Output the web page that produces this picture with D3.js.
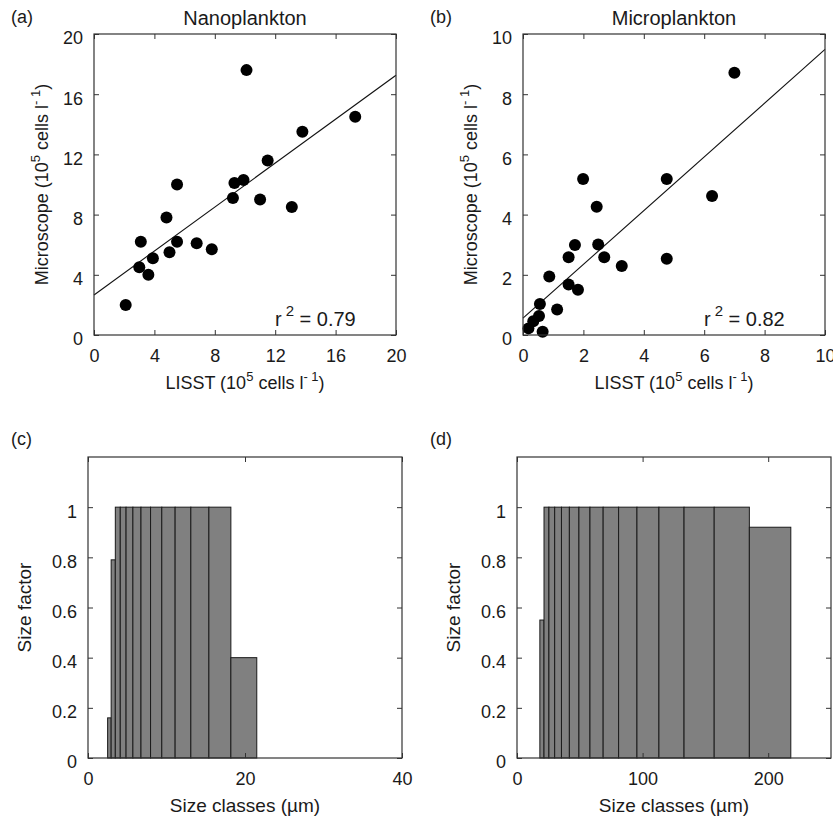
<!DOCTYPE html>
<html>
<head>
<meta charset="utf-8">
<script src="https://cdn.jsdelivr.net/npm/d3@7"></script>
<style>
  body { margin: 0; background: #fff; }
  svg text { font-family: "Liberation Sans", Arial, sans-serif; fill: #1a1a1a; }
  .tick line { stroke: #333; }
</style>
</head>
<body>
<div id="chart"></div>
<script>
// Donnees (10^5 cells l-1)
var nanoLisst = [2.1, 3.0, 3.1, 3.6, 3.9, 4.8, 5.0, 5.5, 5.5, 6.8, 7.8, 9.2, 9.3, 9.9, 10.1, 11.0, 11.5, 13.1, 13.8, 17.3];
var nanoMicro = [2.0, 4.5, 6.2, 4.0, 5.1, 7.8, 5.5, 6.2, 10.0, 6.1, 5.7, 9.1, 10.1, 10.3, 17.6, 9.0, 11.6, 8.5, 13.5, 14.5];
var nanoFit = [2.66, 0.73];   // intercept, pente
var nanoR2 = "0.79";

var microLisst = [0.18, 0.34, 0.53, 0.56, 0.65, 0.87, 1.13, 1.51, 1.51, 1.72, 1.82, 1.99, 2.44, 2.49, 2.69, 3.27, 4.76, 4.76, 6.26, 7.0];
var microMicro = [0.22, 0.46, 0.63, 1.03, 0.11, 1.94, 0.85, 1.68, 2.58, 2.99, 1.50, 5.18, 4.26, 3.01, 2.58, 2.29, 5.18, 2.53, 4.62, 8.71];
var microFit = [0.56, 0.893];
var microR2 = "0.82";

// classes de taille LISST (um) et facteur de taille
var nanoEdges = [2.50, 2.95, 3.48, 4.11, 4.85, 5.72, 6.75, 7.97, 9.40, 11.1, 13.1, 15.4, 18.2, 21.5];
var nanoFactor = [0.16, 0.79, 1, 1, 1, 1, 1, 1, 1, 1, 1, 1, 0.40];
var microEdges = [18.2, 21.5, 25.4, 30.0, 35.4, 41.7, 49.3, 58.1, 68.6, 80.9, 95.5, 113, 133, 157, 185, 218];
var microFactor = [0.55, 1, 1, 1, 1, 1, 1, 1, 1, 1, 1, 1, 1, 1, 0.92];

var scatterTicksA = [0, 4, 8, 12, 16, 20];
var scatterTicksB = [0, 2, 4, 6, 8, 10];
var factorTicks = [0, 0.2, 0.4, 0.6, 0.8, 1];
var sizeTicksC = [0, 20, 40];
var sizeTicksD = [0, 100, 200];

var W = 833, H = 821;
var svg = d3.select("#chart").append("svg").attr("width", W).attr("height", H);

// ajoute un libelle avec exposants : parts = [[texte, exposant?], ...]
function supText(g, x, y, parts, rotate) {
  var t = g.append("text").attr("font-size", 18).attr("text-anchor", "middle");
  if (rotate) t.attr("transform", "translate(" + x + "," + y + ") rotate(-90)");
  else t.attr("x", x).attr("y", y);
  var up = false;
  parts.forEach(function(p) {
    var sp = t.append("tspan").text(p[0]);
    if (p[1] && !up) { sp.attr("dy", -8).attr("font-size", 13); up = true; }
    else if (p[1]) { sp.attr("font-size", 13); }
    else if (up) { sp.attr("dy", 8); up = false; }
  });
  return t;
}

// cadre + axes facon matlab (ticks vers l'interieur sur les 4 cotes)
function frame(box, x, y, xt, yt, yfmt) {
  var g = svg.append("g");
  var xAxis = d3.axisBottom(x).tickValues(xt).tickSize(-5).tickPadding(14).tickFormat(d3.format("d"));
  var yAxis = d3.axisLeft(y).tickValues(yt).tickSize(-5).tickPadding(11).tickFormat(yfmt);

  var gx = g.append("g").attr("transform", "translate(0," + box.y1 + ")").call(xAxis);
  var gy = g.append("g").attr("transform", "translate(" + box.x0 + ",0)").call(yAxis);
  g.append("g").attr("transform", "translate(0," + box.y0 + ")")
    .call(d3.axisTop(x).tickValues(xt).tickSize(-5).tickFormat(""));
  g.append("g").attr("transform", "translate(" + box.x1 + ",0)")
    .call(d3.axisRight(y).tickValues(yt).tickSize(-5).tickFormat(""));

  g.selectAll(".domain").remove();
  g.selectAll(".tick text").attr("font-size", 18).attr("fill", "#1a1a1a")
    .style("font-family", "'Liberation Sans', Arial, sans-serif");
  gy.selectAll(".tick text").attr("dy", "0.55em");
  return g;
}

function border(box) {
  svg.append("rect")
    .attr("x", box.x0).attr("y", box.y0)
    .attr("width", box.x1 - box.x0).attr("height", box.y1 - box.y0)
    .attr("fill", "none").attr("stroke", "#333").attr("stroke-width", 1.2);
}

function scatterPanel(box, xs, ys, fit, r2, maxV, ticks, title, letter, letterX) {
  var x = d3.scaleLinear().domain([0, maxV]).range([box.x0, box.x1]);
  var y = d3.scaleLinear().domain([0, maxV]).range([box.y1, box.y0]);

  frame(box, x, y, ticks, ticks, d3.format("d"));

  var pts = xs.map(function(v, i) { return {x: v, y: ys[i]}; });
  var fitLine = [0, maxV].map(function(v) { return {x: v, y: fit[0] + fit[1] * v}; });

  svg.append("path")
    .datum(fitLine)
    .attr("d", d3.line().x(function(d) { return x(d.x); }).y(function(d) { return y(d.y); }))
    .attr("stroke", "#111").attr("stroke-width", 1.1).attr("fill", "none");

  svg.append("g").selectAll("circle")
    .data(pts).enter()
    .append("circle")
    .attr("cx", function(d) { return x(d.x); })
    .attr("cy", function(d) { return y(d.y); })
    .attr("r", 6)
    .attr("fill", "#000");

  border(box);

  // r^2
  var rt = svg.append("text").attr("x", box.x1 - 121).attr("y", box.y1 - 9).attr("font-size", 20);
  rt.append("tspan").text("r");
  rt.append("tspan").text("2").attr("dy", -10).attr("dx", 4).attr("font-size", 15);
  rt.append("tspan").text(" = " + r2).attr("dy", 10);

  svg.append("text").attr("x", (box.x0 + box.x1) / 2).attr("y", 25)
    .attr("text-anchor", "middle").attr("font-size", 20).text(title);
  svg.append("text").attr("x", letterX).attr("y", 23).attr("font-size", 18).text(letter);

  supText(svg, (box.x0 + box.x1) / 2, box.y1 + 54,
    [["LISST (10"], ["5", true], [" cells l"], ["- 1", true], [")"]]);
  supText(svg, box.x0 - 46, (box.y0 + box.y1) / 2,
    [["Microscope (10"], ["5", true], [" cells l"], ["- 1", true], [")"]], true);
}

function barPanel(box, edges, factor, maxX, xt, letter, letterX) {
  var x = d3.scaleLinear().domain([0, maxX]).range([box.x0, box.x1]);
  var y = d3.scaleLinear().domain([0, 1.2]).range([box.y1, box.y0]);

  var bars = factor.map(function(f, i) { return {a: edges[i], b: edges[i + 1], f: f}; });

  svg.append("g").selectAll("rect")
    .data(bars).enter()
    .append("rect")
    .attr("x", function(d) { return x(d.a); })
    .attr("width", function(d) { return x(d.b) - x(d.a); })
    .attr("y", function(d) { return y(d.f); })
    .attr("height", function(d) { return y(0) - y(d.f); })
    .attr("fill", "#808080").attr("stroke", "#1a1a1a").attr("stroke-width", 1);

  frame(box, x, y, xt, factorTicks, function(d) { return d === 0 ? "0" : d === 1 ? "1" : d3.format(".1f")(d); });
  border(box);

  svg.append("text").attr("x", letterX).attr("y", box.y0 - 12).attr("font-size", 18).text(letter);
  svg.append("text").attr("x", (box.x0 + box.x1) / 2).attr("y", box.y1 + 54)
    .attr("text-anchor", "middle").attr("font-size", 19).text("Size classes (\u00b5m)");
  svg.append("text")
    .attr("transform", "translate(" + (box.x0 - 57) + "," + ((box.y0 + box.y1) / 2) + ") rotate(-90)")
    .attr("text-anchor", "middle").attr("font-size", 19).text("Size factor");
}

var boxA = {x0: 94, x1: 396, y0: 34, y1: 335};
var boxB = {x0: 523, x1: 825, y0: 34, y1: 335};
var boxC = {x0: 88, x1: 402, y0: 457, y1: 758};
var boxD = {x0: 517, x1: 831, y0: 457, y1: 758};

scatterPanel(boxA, nanoLisst, nanoMicro, nanoFit, nanoR2, 20, scatterTicksA, "Nanoplankton", "(a)", 11);
scatterPanel(boxB, microLisst, microMicro, microFit, microR2, 10, scatterTicksB, "Microplankton", "(b)", 430);
barPanel(boxC, nanoEdges, nanoFactor, 40, sizeTicksC, "(c)", 11);
barPanel(boxD, microEdges, microFactor, 250, sizeTicksD, "(d)", 430);
</script>
</body>
</html>
